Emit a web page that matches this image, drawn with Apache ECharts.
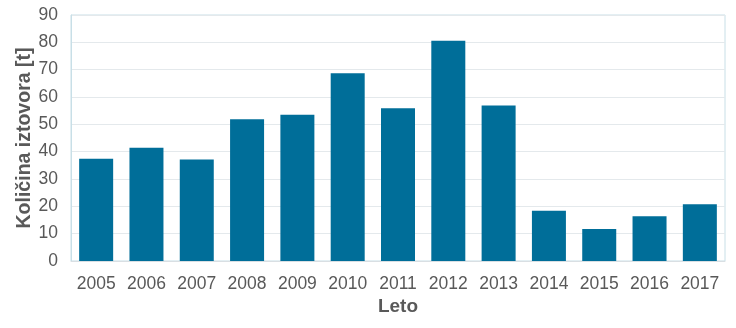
<!DOCTYPE html>
<html><head><meta charset="utf-8">
<script src="https://cdn.jsdelivr.net/npm/echarts@6/dist/echarts.min.js"></script>
<style>html,body{margin:0;padding:0;background:#fff}#c{width:736px;height:328px}</style>
</head><body><div id="c"></div>
<script>
const categories = ['2005','2006','2007','2008','2009','2010','2011','2012','2013','2014','2015','2016','2017'];
const values = [37.4, 41.4, 37.1, 51.9, 53.5, 68.7, 55.9, 80.6, 56.9, 18.4, 11.7, 16.4, 20.8];
const yTicks = {min: 0, max: 90, interval: 10};
const xTitle = 'Leto';
const yTitle = 'Količina iztovora [t]';

const chart = echarts.init(document.getElementById('c'), null, {renderer: 'canvas'});
chart.setOption({
  animation: false,
  grid: {left: 71, right: 11, top: 15, bottom: 67, show: true, borderColor: '#c8dfe7', borderWidth: 1, backgroundColor: 'transparent'},
  xAxis: {
    type: 'category', data: categories,
    name: xTitle, nameLocation: 'middle', nameGap: 36, nameMoveOverlap: false,
    nameTextStyle: {fontFamily: 'Liberation Sans', fontSize: 19, fontWeight: 'bold', color: '#595959'},
    axisLine: {show: true, lineStyle: {color: '#d9dfe3'}},
    axisTick: {show: false},
    axisLabel: {interval: 0, hideOverlap: false, fontFamily: 'Liberation Sans', fontSize: 17.5, color: '#595959', margin: 14}
  },
  yAxis: {
    type: 'value', min: yTicks.min, max: yTicks.max, interval: yTicks.interval,
    name: yTitle, nameLocation: 'middle', nameGap: 36, nameRotate: 90, nameMoveOverlap: false,
    nameTextStyle: {fontFamily: 'Liberation Sans', fontSize: 19.5, fontWeight: 'bold', color: '#595959'},
    axisLine: {show: true, lineStyle: {color: '#c8dfe7'}},
    axisTick: {show: false},
    axisLabel: {fontFamily: 'Liberation Sans', fontSize: 17.5, color: '#595959', margin: 13},
    splitLine: {show: true, lineStyle: {color: '#e4e9ec', width: 1}}
  },
  series: [{
    type: 'bar', data: values, barWidth: 34,
    itemStyle: {color: '#006e99'}
  }]
});
</script></body></html>
